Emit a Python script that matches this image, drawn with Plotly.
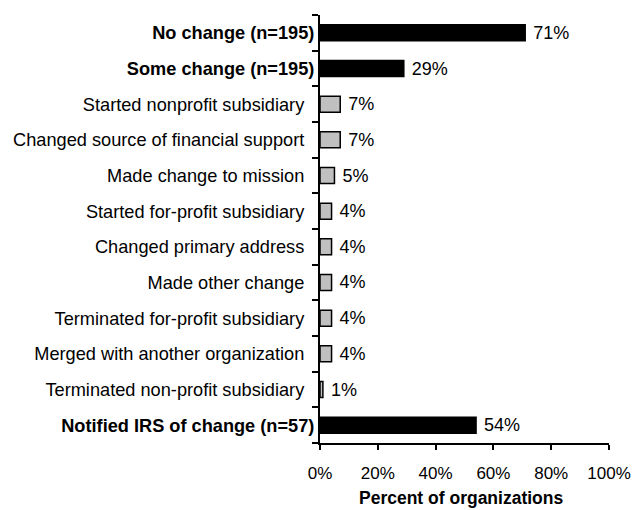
import plotly.graph_objects as go

categories = [
    "No change (n=195)",
    "Some change (n=195)",
    "Started nonprofit subsidiary",
    "Changed source of financial support",
    "Made change to mission",
    "Started for-profit subsidiary",
    "Changed primary address",
    "Made other change",
    "Terminated for-profit subsidiary",
    "Merged with another organization",
    "Terminated non-profit subsidiary",
    "Notified IRS of change (n=57)",
]
values = [71, 29, 7, 7, 5, 4, 4, 4, 4, 4, 1, 54]
bold_rows = [True, True, False, False, False, False, False, False, False, False, False, True]
x_ticks = [0, 20, 40, 60, 80, 100]
x_tick_labels = ["0%", "20%", "40%", "60%", "80%", "100%"]
x_title = "Percent of organizations"

FONT = "Liberation Sans, Arial, sans-serif"
colors = ["#000000" if b else "#c0c0c0" for b in bold_rows]
tick_text = [f"<b>{c}</b>" if b else c + "\u00a0\u00a0" for c, b in zip(categories, bold_rows)]

fig = go.Figure(go.Bar(
    x=values,
    y=categories,
    orientation="h",
    width=0.45,
    marker=dict(color=colors, line=dict(color="#000000", width=1.5)),
    text=[f" {v}%" for v in values],
    textposition="outside",
    constraintext="none",
    textfont=dict(family=FONT, size=18, color="#000000"),
    cliponaxis=False,
))

fig.update_layout(
    width=632, height=510,
    margin=dict(l=320, r=23, t=15, b=67, autoexpand=False),
    plot_bgcolor="white", paper_bgcolor="white",
    showlegend=False,
    font=dict(family=FONT, size=18, color="#000000"),
    annotations=[dict(
        text=f"<b>{x_title}</b>", xref="paper", yref="paper",
        x=0.5, y=0, xanchor="center", yanchor="middle",
        xshift=-4, yshift=-55, showarrow=False,
        font=dict(family=FONT, size=17.5, color="#000000"),
    )],
)
fig.update_xaxes(
    range=[0, 100],
    tickvals=x_ticks, ticktext=x_tick_labels,
    showgrid=False, zeroline=False,
    showline=True, linecolor="#000000", linewidth=2,
    ticks="outside", ticklen=5, tickwidth=2, tickcolor="#000000",
    tickfont=dict(size=17),
    ticklabelstandoff=9,
    automargin=False,
    ticklabeloverflow="allow",
)
fig.update_yaxes(
    categoryorder="array", categoryarray=categories,
    tickvals=categories, ticktext=tick_text,
    autorange="reversed",
    showgrid=False, zeroline=False,
    showline=True, linecolor="#000000", linewidth=2,
    ticks="outside", ticklen=6, tickwidth=2, tickcolor="#000000",
    tickson="boundaries",
    tickfont=dict(size=18.2),
    automargin=False,
)

fig.write_html(
    "out.html",
    config={"displayModeBar": False},
    post_script="document.body.style.margin='0';document.body.style.overflow='hidden';",
)
